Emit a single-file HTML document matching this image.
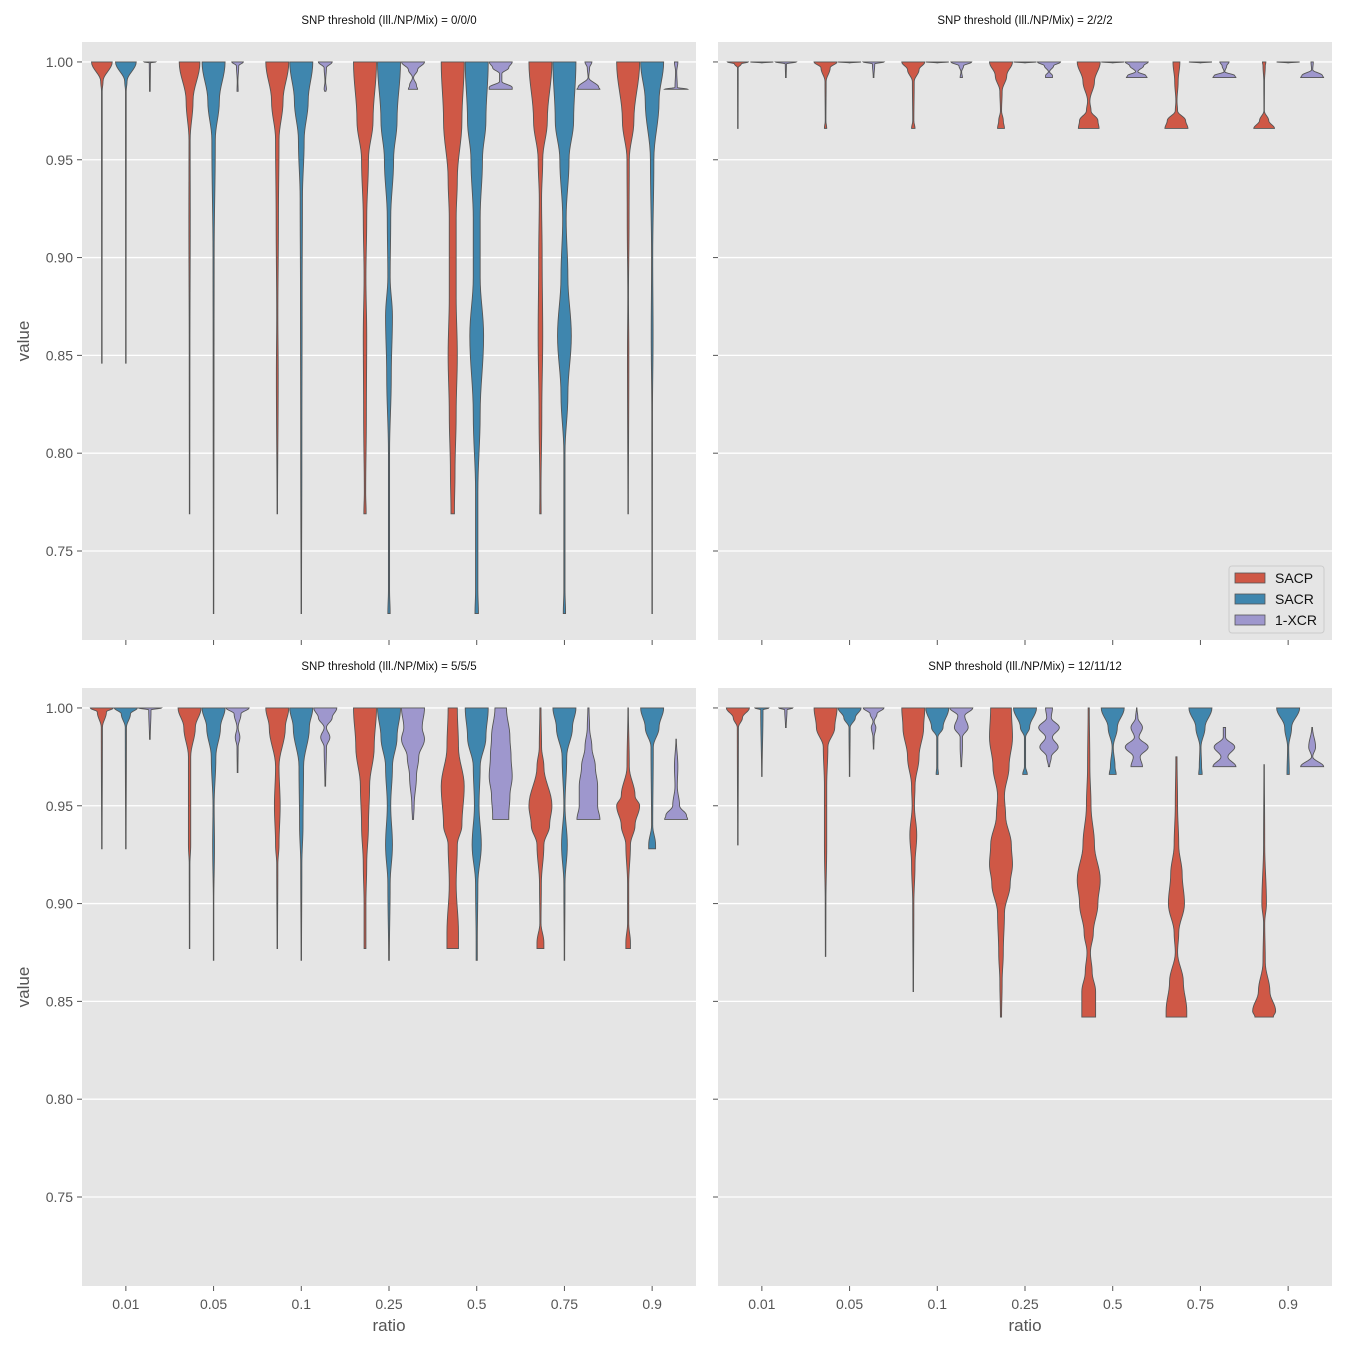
<!DOCTYPE html>
<html><head><meta charset="utf-8"><style>
body{margin:0;background:#fff}
svg{display:block;font-family:"Liberation Sans","DejaVu Sans",sans-serif}
</style></head><body>
<svg id="chart" width="1350" height="1350" viewBox="0 0 1350 1350"></svg>
<script>
const ratios = ["0.01","0.05","0.1","0.25","0.5","0.75","0.9"];
const seriesNames = ["SACP","SACR","1-XCR"];
const seriesColors = ["#CF5846","#3F86AE","#9E97CD"];
const panelTitles = ["SNP threshold (Ill./NP/Mix) = 0/0/0","SNP threshold (Ill./NP/Mix) = 2/2/2","SNP threshold (Ill./NP/Mix) = 5/5/5","SNP threshold (Ill./NP/Mix) = 12/11/12"];
const yTicks = [0.75,0.80,0.85,0.90,0.95,1.00];
const yTickLabels = ["0.75","0.80","0.85","0.90","0.95","1.00"];
// density knots per violin: [value, relative half-width]
const panel0 = [
 [[[1,0.9],[0.99,0.1],[0.985,0.03],[0.846,0.02]],[[1,0.9],[0.99,0.1],[0.985,0.03],[0.846,0.02]],[[1,0.5],[0.9995,0.05],[0.985,0.03]]],
 [[[1,0.9],[0.98,0.3],[0.96,0.05],[0.92,0.06],[0.85,0.03],[0.769,0.02]],[[1,1],[0.98,0.5],[0.96,0.15],[0.9,0.05],[0.85,0.04],[0.718,0.02]],[[1,0.5],[0.998,0.1],[0.99,0.03],[0.985,0.05]]],
 [[[1,1],[0.98,0.5],[0.96,0.15],[0.92,0.1],[0.87,0.05],[0.84,0.08],[0.769,0.02]],[[1,1],[0.98,0.6],[0.96,0.25],[0.93,0.1],[0.88,0.07],[0.8,0.05],[0.718,0.02]],[[1,0.6],[0.997,0.1],[0.99,0.03],[0.986,0.1],[0.985,0.05]]],
 [[[1,1],[0.97,0.7],[0.95,0.3],[0.92,0.15],[0.89,0.08],[0.86,0.15],[0.82,0.12],[0.78,0.06],[0.769,0.1]],[[1,1],[0.97,0.7],[0.95,0.4],[0.92,0.15],[0.89,0.1],[0.87,0.3],[0.84,0.2],[0.8,0.05],[0.73,0.05],[0.718,0.1]],[[1,1],[0.996,0.4],[0.992,0.05],[0.988,0.3],[0.986,0.4]]],
 [[[1,1],[0.97,0.8],[0.94,0.4],[0.92,0.3],[0.88,0.3],[0.85,0.4],[0.82,0.3],[0.79,0.2],[0.77,0.15],[0.769,0.15]],[[1,1],[0.97,0.8],[0.95,0.5],[0.92,0.3],[0.89,0.3],[0.86,0.6],[0.82,0.3],[0.78,0.1],[0.73,0.1],[0.718,0.15]],[[1,1],[0.997,0.7],[0.994,0.1],[0.99,0.1],[0.987,1],[0.986,1]]],
 [[[1,1],[0.97,0.6],[0.95,0.2],[0.93,0.1],[0.9,0.15],[0.86,0.2],[0.82,0.12],[0.78,0.05],[0.769,0.06]],[[1,1],[0.97,0.8],[0.95,0.4],[0.92,0.15],[0.89,0.3],[0.86,0.6],[0.83,0.3],[0.8,0.05],[0.73,0.05],[0.718,0.1]],[[1,0.3],[0.997,0.1],[0.992,0.03],[0.987,0.9],[0.986,1]]],
 [[[1,1],[0.97,0.5],[0.95,0.1],[0.92,0.08],[0.88,0.03],[0.85,0.06],[0.769,0.02]],[[1,1],[0.98,0.6],[0.95,0.15],[0.9,0.05],[0.86,0.08],[0.82,0.03],[0.718,0.02]],[[1,0.15],[0.995,0.05],[0.987,0.1],[0.986,1]]]
];
const panel1 = [
 [[[1,0.9],[0.999,0.3],[0.997,0.03],[0.966,0.02]],[[1,1],[0.9995,0.02]],[[1,0.9],[0.999,0.05],[0.992,0.03]]],
 [[[1,1],[0.997,0.4],[0.99,0.05],[0.97,0.03],[0.966,0.1]],[[1,1],[0.9995,0.02]],[[1,0.9],[0.999,0.1],[0.992,0.03]]],
 [[[1,1],[0.996,0.5],[0.99,0.08],[0.97,0.05],[0.966,0.15]],[[1,1],[0.9995,0.02]],[[1,0.9],[0.998,0.2],[0.995,0.03],[0.992,0.1]]],
 [[[1,1],[0.993,0.5],[0.985,0.1],[0.975,0.05],[0.97,0.2],[0.966,0.3]],[[1,1],[0.9995,0.02]],[[1,1],[0.998,0.4],[0.995,0.05],[0.993,0.3],[0.992,0.3]]],
 [[[1,1],[0.99,0.5],[0.98,0.1],[0.975,0.2],[0.97,0.8],[0.966,0.9]],[[1,1],[0.9995,0.02]],[[1,1],[0.998,0.6],[0.995,0.1],[0.993,0.8],[0.992,0.9]]],
 [[[1,0.3],[0.99,0.15],[0.98,0.05],[0.975,0.1],[0.97,0.8],[0.966,1]],[[1,1],[0.9995,0.02]],[[1,0.4],[0.998,0.2],[0.995,0.03],[0.993,0.9],[0.992,1]]],
 [[[1,0.15],[0.998,0.1],[0.99,0.03],[0.975,0.02],[0.97,0.4],[0.966,0.9]],[[1,1],[0.9995,0.02]],[[1,0.1],[0.996,0.05],[0.993,0.9],[0.992,1]]]
];
const panel2 = [
 [[[1,1],[0.998,0.4],[0.99,0.05],[0.928,0.02]],[[1,1],[0.997,0.4],[0.99,0.05],[0.928,0.02]],[[1,1],[0.999,0.1],[0.984,0.03]]],
 [[[1,1],[0.99,0.5],[0.975,0.1],[0.95,0.1],[0.93,0.1],[0.92,0.03],[0.877,0.02]],[[1,1],[0.99,0.6],[0.975,0.2],[0.95,0.05],[0.93,0.08],[0.9,0.02],[0.871,0.02]],[[1,1],[0.997,0.3],[0.99,0.05],[0.985,0.2],[0.98,0.05],[0.967,0.03]]],
 [[[1,1],[0.99,0.7],[0.97,0.15],[0.95,0.25],[0.93,0.15],[0.92,0.05],[0.877,0.02]],[[1,1],[0.99,0.7],[0.97,0.2],[0.94,0.15],[0.92,0.05],[0.871,0.02]],[[1,1],[0.995,0.6],[0.99,0.1],[0.985,0.4],[0.98,0.1],[0.96,0.03]]],
 [[[1,1],[0.98,0.8],[0.96,0.4],[0.94,0.3],[0.92,0.15],[0.9,0.08],[0.877,0.08]],[[1,1],[0.985,0.7],[0.97,0.3],[0.95,0.15],[0.93,0.3],[0.91,0.1],[0.871,0.03]],[[1,1],[0.99,0.8],[0.984,1],[0.975,0.5],[0.965,0.3],[0.95,0.1],[0.943,0.05]]],
 [[[1,0.4],[0.98,0.5],[0.96,1],[0.94,0.8],[0.93,0.4],[0.91,0.3],[0.885,0.5],[0.877,0.5]],[[1,1],[0.985,0.8],[0.97,0.3],[0.95,0.2],[0.93,0.4],[0.91,0.1],[0.88,0.05],[0.871,0.05]],[[1,0.5],[0.985,0.8],[0.975,0.9],[0.965,1],[0.955,0.8],[0.945,0.7],[0.943,0.7]]],
 [[[1,0.05],[0.98,0.1],[0.97,0.3],[0.95,1],[0.94,0.8],[0.93,0.3],[0.91,0.08],[0.89,0.05],[0.88,0.3],[0.877,0.3]],[[1,1],[0.99,0.7],[0.975,0.2],[0.95,0.05],[0.93,0.25],[0.91,0.05],[0.871,0.02]],[[1,0.05],[0.99,0.1],[0.98,0.3],[0.97,0.6],[0.96,0.8],[0.95,0.8],[0.943,1]]],
 [[[1,0.02],[0.97,0.1],[0.955,0.6],[0.95,1],[0.94,0.6],[0.93,0.2],[0.91,0.05],[0.89,0.05],[0.88,0.2],[0.877,0.2]],[[1,1],[0.99,0.6],[0.98,0.1],[0.94,0.05],[0.93,0.3],[0.928,0.3]],[[0.984,0.02],[0.97,0.15],[0.96,0.1],[0.95,0.3],[0.945,0.9],[0.943,1]]]
];
const panel3 = [
 [[[1,1],[0.995,0.4],[0.99,0.05],[0.93,0.02]],[[1,0.6],[0.999,0.1],[0.965,0.02]],[[1,0.6],[0.999,0.1],[0.99,0.03]]],
 [[[1,1],[0.99,0.8],[0.98,0.2],[0.96,0.1],[0.93,0.1],[0.9,0.03],[0.873,0.02]],[[1,1],[0.995,0.5],[0.99,0.05],[0.965,0.02]],[[1,0.9],[0.997,0.3],[0.993,0.05],[0.99,0.2],[0.985,0.05],[0.979,0.02]]],
 [[[1,1],[0.99,0.9],[0.975,0.5],[0.96,0.15],[0.95,0.1],[0.935,0.3],[0.92,0.15],[0.9,0.05],[0.855,0.02]],[[1,1],[0.99,0.5],[0.985,0.05],[0.97,0.05],[0.966,0.1]],[[1,1],[0.996,0.3],[0.99,0.6],[0.985,0.1],[0.98,0.1],[0.97,0.03]]],
 [[[1,0.9],[0.985,1],[0.97,0.7],[0.955,0.3],[0.945,0.4],[0.93,0.9],[0.92,1],[0.91,0.8],[0.895,0.3],[0.875,0.2],[0.86,0.1],[0.842,0.05]],[[1,1],[0.99,0.4],[0.985,0.05],[0.97,0.05],[0.966,0.2]],[[1,0.3],[0.995,0.2],[0.99,0.9],[0.985,0.3],[0.98,0.8],[0.975,0.2],[0.97,0.05]]],
 [[[1,0.05],[0.97,0.1],[0.95,0.2],[0.93,0.5],[0.912,1],[0.9,0.8],[0.885,0.4],[0.875,0.15],[0.865,0.3],[0.855,0.6],[0.842,0.6]],[[1,1],[0.99,0.4],[0.98,0.05],[0.97,0.2],[0.966,0.3]],[[1,0.02],[0.995,0.1],[0.99,0.5],[0.985,0.2],[0.98,1],[0.975,0.3],[0.97,0.5]]],
 [[[0.975,0.05],[0.95,0.1],[0.93,0.2],[0.915,0.5],[0.9,0.7],[0.885,0.2],[0.875,0.1],[0.86,0.6],[0.845,0.9],[0.842,0.9]],[[1,1],[0.99,0.4],[0.98,0.05],[0.97,0.1],[0.966,0.15]],[[0.99,0.1],[0.985,0.1],[0.98,0.9],[0.975,0.3],[0.97,1]]],
 [[[0.971,0.02],[0.93,0.05],[0.9,0.2],[0.89,0.05],[0.87,0.1],[0.855,0.5],[0.845,1],[0.842,0.8]],[[1,1],[0.99,0.3],[0.98,0.05],[0.966,0.1]],[[0.99,0.03],[0.98,0.3],[0.975,0.05],[0.97,1]]]
];
const panelData = [panel0, panel1, panel2, panel3];

const NS = "http://www.w3.org/2000/svg";
const svg = document.getElementById("chart");
function mk(tag, attrs, parent){const e=document.createElementNS(NS,tag);for(const k in attrs)e.setAttribute(k,attrs[k]);(parent||svg).appendChild(e);return e;}
const panels = [{x:82,y:42},{x:718,y:42},{x:82,y:688},{x:718,y:688}];
const PW=614, PH=598, YMIN=0.7045, YMAX=1.0102, HALFW=11.5, HUEOFF=24;
function yScale(p,v){return p.y + (YMAX - v)/(YMAX-YMIN)*PH;}
function xBand(p,i){return p.x + PW/7*(i+0.5);}

panels.forEach((p,pi)=>{
  const g = mk("g",{});
  
  
  const bg = mk("rect",{x:p.x,y:p.y,width:PW,height:PH,fill:"#E5E5E5"},g);
  
  
  yTicks.forEach((t,ti)=>{
    const yy=yScale(p,t);
    const gl = mk("line",{x1:p.x,x2:p.x+PW,y1:yy,y2:yy,stroke:"#fff","stroke-width":1.3},g);
    
    
    mk("line",{x1:p.x-5,x2:p.x,y1:yy,y2:yy,stroke:"#555","stroke-width":1},g);
    if(pi%2===0){
      const tl = mk("text",{x:p.x-9,y:yy+5,"text-anchor":"end","font-size":14,fill:"#555"},g);
      tl.textContent=yTickLabels[ti];
      
      
    }
  });
  ratios.forEach((r,ri)=>{
    const xx=xBand(p,ri);
    mk("line",{x1:xx,x2:xx,y1:p.y+PH,y2:p.y+PH+5,stroke:"#555","stroke-width":1},g);
    if(pi>=2){
      const tl = mk("text",{x:xx,y:p.y+PH+23,"text-anchor":"middle","font-size":14,fill:"#555"},g);
      tl.textContent=r;
      
      
    }
    panelData[pi][ri].forEach((knots,si)=>{
      const cx = xx + (si-1)*HUEOFF;
      const pts=[];
      for(let k=0;k<knots.length-1;k++){
        const [v0,w0]=knots[k],[v1,w1]=knots[k+1];
        const n=8;
        for(let s=0;s<n;s++){const t=s/n;const u=(1-Math.cos(Math.PI*t))/2;pts.push([v0+(v1-v0)*t,w0+(w1-w0)*u]);}
      }
      pts.push(knots[knots.length-1]);
      let d="";
      pts.forEach((q,qi)=>{d+=(qi?"L":"M")+(cx+q[1]*HALFW).toFixed(2)+","+yScale(p,q[0]).toFixed(2);});
      for(let qi=pts.length-1;qi>=0;qi--){const q=pts[qi];d+="L"+(cx-q[1]*HALFW).toFixed(2)+","+yScale(p,q[0]).toFixed(2);}
      d+="Z";
      const v = mk("path",{d:d,fill:seriesColors[si],stroke:"#555","stroke-width":0.9},g);
      
      
    });
  });
  const tt = mk("text",{x:p.x+PW/2,y:p.y-18,"text-anchor":"middle","font-size":11.5,fill:"#111"},g);
  tt.textContent=panelTitles[pi];
  
  
});
[[341],[987]].forEach(([cy])=>{
  const t=mk("text",{x:29,y:cy,"text-anchor":"middle","font-size":17,fill:"#555",transform:"rotate(-90 29 "+cy+")"});
  t.textContent="value";
  
  
});
[389,1025].forEach(cx=>{
  const t=mk("text",{x:cx,y:1331,"text-anchor":"middle","font-size":17,fill:"#555"});
  t.textContent="ratio";
  
  
});
const lg=mk("g",{});


mk("rect",{x:1229,y:566,width:95,height:67,rx:3,fill:"#E5E5E5",stroke:"#ccc","stroke-width":1},lg);
seriesNames.forEach((s,si)=>{
  const yy=578+si*21;
  const sw=mk("rect",{x:1235,y:yy-5,width:30,height:10,fill:seriesColors[si],stroke:"#555","stroke-width":0.8},lg);
  
  
  const t=mk("text",{x:1275,y:yy+5,"font-size":14,fill:"#111"},lg);
  t.textContent=s;
  
  
});
</script>
</body></html>
